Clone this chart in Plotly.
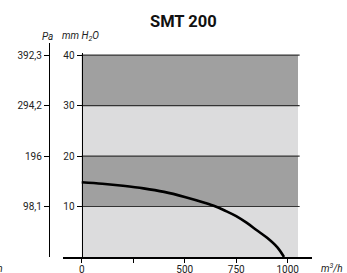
import plotly.graph_objects as go

# Data
flow_m3h = [0, 100, 200, 300, 400, 500, 600, 650, 700, 750, 800, 850, 900, 950, 982]
pressure_mmH2O = [14.8, 14.5, 14.1, 13.6, 12.9, 11.9, 10.7, 10.0, 9.1, 8.1, 6.8, 5.3, 3.8, 1.9, 0]

x_tickvals = [0, 250, 500, 750, 1000]
x_ticktext = ["0", "", "500", "750", "1000"]
mm_tickvals = [10, 20, 30, 40]
mm_ticktext = ["10", "20", "30", "40"]
pa_tickvals = [98.1, 196, 294.2, 392.3]
pa_ticktext = ["98,1", "196", "294,2", "392,3"]

band_edges = [0, 10, 20, 30, 40]
band_colors = ["#dcdcdd", "#a0a0a0", "#dcdcdd", "#a0a0a0"]
band_xmax = 1050

FONT = "Roboto, Liberation Sans, sans-serif"
TXT = "#222222"

fig = go.Figure()
fig.add_trace(go.Scatter(x=flow_m3h, y=pressure_mmH2O, mode="lines",
                         line=dict(color="black", width=2.6, shape="spline"),
                         showlegend=False, hoverinfo="skip"))
# invisible helper trace so the Pa axis is created
fig.add_trace(go.Scatter(x=[0], y=[0], yaxis="y2", mode="markers",
                         marker=dict(opacity=0), showlegend=False, hoverinfo="skip"))

shapes = []
for i in range(4):
    shapes.append(dict(type="rect", xref="x", yref="y", x0=0, x1=band_xmax,
                       y0=band_edges[i], y1=band_edges[i + 1],
                       fillcolor=band_colors[i], line=dict(width=0), layer="below"))
for v in band_edges[1:]:
    shapes.append(dict(type="line", xref="x", yref="y", x0=0, x1=band_xmax + 8,
                       y0=v, y1=v, line=dict(color="#333333", width=1.2), layer="below"))

fig.update_layout(
    width=347, height=273,
    margin=dict(l=30, r=35, t=43, b=16, autoexpand=False),
    paper_bgcolor="white", plot_bgcolor="rgba(0,0,0,0)",
    font=dict(family=FONT, size=10, color=TXT),
    shapes=shapes,
    xaxis=dict(range=[-91, 1118], domain=[0.117, 1], anchor="y", automargin=False,
               showline=True, linecolor="black", linewidth=1.5,
               ticks="outside", ticklen=4, tickcolor="black", tickwidth=1,
               ticklabelstandoff=-2,
               tickvals=x_tickvals, ticktext=x_ticktext,
               showgrid=False, zeroline=False, tickfont=dict(size=10, color=TXT)),
    yaxis=dict(range=[0, 40.4], domain=[0, 0.953], anchor="free", position=0.1833,
               automargin=False,
               showline=True, linecolor="black", linewidth=1.3,
               ticks="outside", ticklen=5, tickcolor="black", tickwidth=1,
               tickvals=mm_tickvals, ticktext=mm_ticktext,
               showgrid=False, zeroline=False, tickfont=dict(size=10, color=TXT)),
    yaxis2=dict(range=[0, 415.6], domain=[0, 1], anchor="free", position=0.0674,
                automargin=False,
                showline=True, linecolor="black", linewidth=1.3,
                ticks="outside", ticklen=5, tickcolor="black", tickwidth=1,
                tickvals=pa_tickvals, ticktext=pa_ticktext,
                showgrid=False, zeroline=False, tickfont=dict(size=10, color=TXT)),
    annotations=[
        dict(text="<b>SMT 200</b>", xref="paper", yref="paper", x=0.546, y=1.1,
             xanchor="center", yanchor="middle", showarrow=False,
             font=dict(size=16.5, color="#111111")),
        dict(text="<i>Pa</i>", xref="paper", yref="paper", x=0.062, y=1.03,
             xanchor="center", yanchor="middle", showarrow=False, font=dict(size=10)),
        dict(text="<i>mm H<sub>2</sub>O</i>", xref="paper", yref="paper", x=0.105, y=1.03,
             xanchor="left", yanchor="middle", showarrow=False, font=dict(size=10)),
        dict(text="<i>m<sup>3</sup>/h</i>", xref="paper", yref="paper", x=1.025, y=-0.05,
             xanchor="left", yanchor="middle", showarrow=False, font=dict(size=10)),
        dict(text="<i>m<sup>3</sup>/h</i>", xref="paper", yref="paper", x=-0.087, y=-0.05,
             xanchor="right", yanchor="middle", showarrow=False, font=dict(size=10)),
    ],
)

fig.write_html("out.html", config={"displayModeBar": False},
               post_script="document.body.style.margin='0';document.body.style.overflow='hidden';")
